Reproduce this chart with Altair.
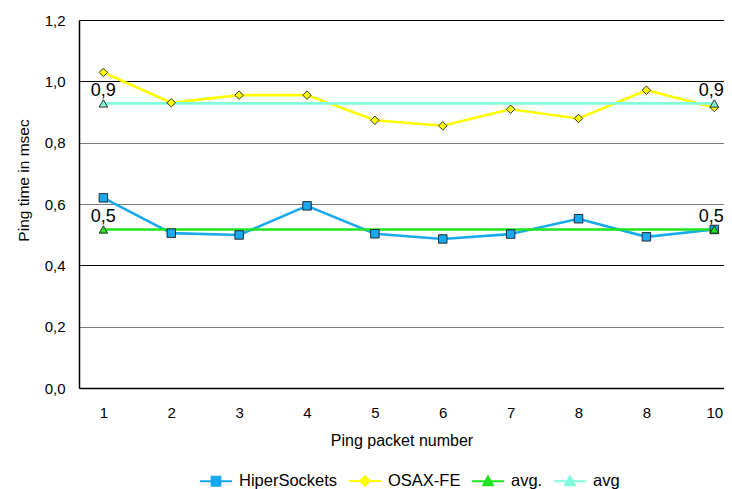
import altair as alt
import pandas as pd

# ---- data ----
x_labels = ["1", "2", "3", "4", "5", "6", "7", "8", "8", "10"]
packets = [1, 2, 3, 4, 5, 6, 7, 8, 9, 10]
hipersockets = [0.620, 0.505, 0.499, 0.594, 0.503, 0.486, 0.502, 0.552, 0.493, 0.517]
osax_fe = [1.029, 0.930, 0.955, 0.955, 0.873, 0.855, 0.909, 0.879, 0.971, 0.915]
avg_hiper = [0.517, 0.517, 0.517, 0.517, 0.517, 0.517, 0.517, 0.517, 0.517, 0.517]
avg_osax = [0.928, 0.928, 0.928, 0.928, 0.928, 0.928, 0.928, 0.928, 0.928, 0.928]

series_names = ["HiperSockets", "OSAX-FE", "avg.", "avg"]
series_values = [hipersockets, osax_fe, avg_hiper, avg_osax]
series_colors = ["#19a9ee", "#ffff00", "#1ee61e", "#80fbdc"]
marker_shapes = ["square", "diamond", "triangle-up", "triangle-up"]
legend_paths = [
    "M-2,0H2M-0.55,-0.55H0.55V0.55H-0.55Z",
    "M-2,0H2M0,-0.6L0.6,0L0,0.6L-0.6,0Z",
    "M-2,0H2M0,-0.6L0.6,0.5H-0.6Z",
    "M-2,0H2M0,-0.6L0.6,0.5H-0.6Z",
]
labelled_series = ["avg.", "avg"]
labelled_points = [1, 10]

rows = []
for name, vals in zip(series_names, series_values):
    for p, v in zip(packets, vals):
        rows.append({"pos": p, "value": v, "series": name})
df = pd.DataFrame(rows)

FONT = "Liberation Sans"
label_js = "[" + ",".join("'%s'" % s for s in x_labels) + "][datum.value - 1]"

x_enc = alt.X(
    "pos:Q",
    scale=alt.Scale(domain=[0.641, 10.143], nice=False, zero=False),
    axis=alt.Axis(
        values=packets, labelExpr=label_js, title="Ping packet number",
        grid=False, ticks=False, tickSize=0, domainColor="black", domainWidth=1.5,
        labelFont=FONT, labelFontSize=15, labelColor="black", labelPadding=17,
        titleFont=FONT, titleFontSize=16, titleFontWeight="normal", titleColor="black",
        titlePadding=12, labelFlush=False,
    ),
)
y_enc = alt.Y(
    "value:Q",
    scale=alt.Scale(domain=[0, 1.2], nice=False),
    axis=alt.Axis(
        values=[0, 0.2, 0.4, 0.6, 0.8, 1.0, 1.2],
        labelExpr="replace(format(datum.value, '.1f'), '.', ',')",
        title="Ping time in msec",
        grid=True,
        gridColor={"condition": {"test": "datum.value == 1 || datum.value == 0.4 || datum.value == 1.2",
                                 "value": "#000000"}, "value": "#7a7a7a"},
        gridWidth=1.2,
        ticks=False, tickSize=0, domainColor="black", domainWidth=1.5,
        labelFont=FONT, labelFontSize=15, labelColor="black", labelPadding=14,
        titleFont=FONT, titleFontSize=15.5, titleFontWeight="normal", titleColor="black",
        titlePadding=13, titleY=160, labelFlush=False,
    ),
)

layers = []
for name, col, shp in zip(series_names, series_colors, marker_shapes):
    sub = df[df["series"] == name]
    layers.append(
        alt.Chart(sub).mark_line(strokeWidth=2.6, color=col).encode(x=x_enc, y=y_enc)
    )
for name, col, shp in zip(series_names, series_colors, marker_shapes):
    sub = df[df["series"] == name]
    if name in labelled_series:
        sub = sub[sub["pos"].isin(labelled_points)]
    layers.append(
        alt.Chart(sub).mark_point(filled=True, shape=shp, size=72, fill=col,
                                  stroke="#1a1a1a", strokeWidth=0.9, opacity=1)
        .encode(x=x_enc, y=y_enc)
    )

lab_df = df[df["series"].isin(labelled_series) & df["pos"].isin(labelled_points)]
lab_first = lab_df[lab_df["pos"] == labelled_points[0]]
lab_last = lab_df[lab_df["pos"] == labelled_points[-1]]
layers.append(
    alt.Chart(lab_first).mark_text(font=FONT, fontSize=18, color="black",
                                   baseline="bottom", align="center", dy=-3)
    .transform_calculate(txt="replace(format(datum.value, '.1f'), '.', ',')")
    .encode(x=x_enc, y=y_enc, text="txt:N")
)
layers.append(
    alt.Chart(lab_last).mark_text(font=FONT, fontSize=18, color="black",
                                  baseline="bottom", align="right", dx=9.5, dy=-3)
    .transform_calculate(txt="replace(format(datum.value, '.1f'), '.', ',')")
    .encode(x=x_enc, y=y_enc, text="txt:N")
)

# legend-only layer (draws no marks)
leg_df = pd.DataFrame({"series": series_names, "pos": packets[:4], "value": hipersockets[:4]})
leg_scale_kw = dict(domain=series_names, range=series_colors)
layers.append(
    alt.Chart(leg_df).mark_point(strokeWidth=2, opacity=1)
    .transform_filter("datum.value > 100")
    .encode(
        fill=alt.Fill("series:N", scale=alt.Scale(**leg_scale_kw), legend=alt.Legend(title=None)),
        stroke=alt.Stroke("series:N", scale=alt.Scale(**leg_scale_kw), legend=alt.Legend(title=None)),
        shape=alt.Shape("series:N", scale=alt.Scale(domain=series_names, range=legend_paths),
                        legend=alt.Legend(title=None)),
    )
)

chart = alt.layer(*layers).properties(
    width=645, height=368, autosize="none",
    padding={"left": 71, "top": 12, "right": 0, "bottom": 101},
).configure_view(stroke=None).configure_legend(
    orient="none", legendX=128, legendY=452, direction="horizontal",
    symbolSize=256, symbolStrokeWidth=2, labelOffset=14, columnPadding=7,
    labelFont=FONT, labelFontSize=16.5, labelColor="black", symbolOpacity=1,
)

chart.save("out.html", embed_options={"renderer": "svg", "actions": False})
